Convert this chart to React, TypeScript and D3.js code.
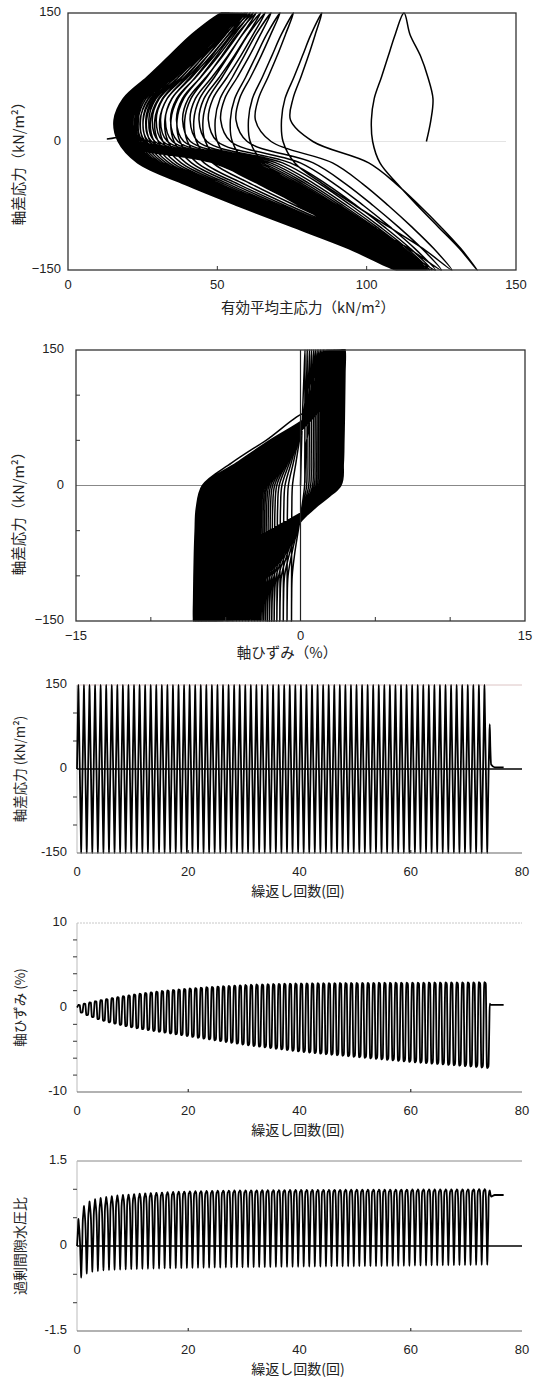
import React from 'react'
import * as d3 from 'd3'

// ---- values, one entry per loading cycle (k = 0..73) ----

// axial strain (%) at q = +150 and at q = -150
const strainMax = [
  0.30, 0.45, 0.60, 0.74, 0.88, 1.00, 1.12, 1.23, 1.34, 1.44,
  1.54, 1.63, 1.72, 1.80, 1.88, 1.95, 2.02, 2.08, 2.14, 2.20,
  2.25, 2.30, 2.35, 2.40, 2.44, 2.48, 2.52, 2.56, 2.60, 2.63,
  2.66, 2.69, 2.72, 2.74, 2.76, 2.78, 2.80, 2.82, 2.83, 2.84,
  2.85, 2.86, 2.87, 2.88, 2.88, 2.89, 2.89, 2.90, 2.90, 2.91,
  2.91, 2.92, 2.92, 2.92, 2.93, 2.93, 2.93, 2.94, 2.94, 2.94,
  2.95, 2.95, 2.95, 2.96, 2.96, 2.96, 2.97, 2.97, 2.97, 2.98,
  2.98, 2.98, 2.99, 2.99,
]
const strainMin = [
  -0.60, -0.90, -1.15, -1.38, -1.58, -1.76, -1.92, -2.07, -2.21, -2.34,
  -2.46, -2.57, -2.68, -2.78, -2.88, -2.98, -3.08, -3.18, -3.28, -3.38,
  -3.48, -3.58, -3.68, -3.78, -3.88, -3.98, -4.08, -4.18, -4.28, -4.38,
  -4.47, -4.56, -4.64, -4.72, -4.80, -4.88, -4.96, -5.04, -5.12, -5.20,
  -5.27, -5.34, -5.41, -5.47, -5.53, -5.59, -5.65, -5.71, -5.77, -5.83,
  -5.89, -5.95, -6.01, -6.07, -6.13, -6.19, -6.25, -6.31, -6.37, -6.43,
  -6.49, -6.54, -6.59, -6.64, -6.69, -6.74, -6.79, -6.84, -6.89, -6.94,
  -6.99, -7.04, -7.10, -7.16,
]

// effective mean stress p' (kN/m2): at q = +150, at q = 0 going down, at q = -150
const pTop = [
  112.5, 85.0, 75.5, 71.0, 68.0, 66.0, 64.5, 63.0, 62.0, 61.0,
  60.0, 59.3, 58.6, 58.0, 57.5, 57.0, 56.6, 56.2, 55.8, 55.5,
  55.2, 55.0, 54.8, 54.6, 54.4, 54.2, 54.0, 53.9, 53.8, 53.7,
  53.6, 53.5, 53.4, 53.3, 53.2, 53.1, 53.0, 52.9, 52.8, 52.8,
  52.7, 52.7, 52.6, 52.6, 52.5, 52.5, 52.4, 52.4, 52.3, 52.3,
  52.2, 52.2, 52.1, 52.1, 52.0, 52.0, 51.9, 51.9, 51.8, 51.8,
  51.7, 51.7, 51.6, 51.6, 51.5, 51.5, 51.4, 51.4, 51.3, 51.3,
  51.2, 51.2, 51.1, 51.1,
]
const pNose = [
  102, 72, 61, 55, 50, 46, 43, 40, 37.5, 35.5,
  33.5, 31.8, 30.2, 28.8, 27.5, 26.4, 25.4, 24.5, 23.7, 23.0,
  22.4, 21.8, 21.3, 20.9, 20.5, 20.2, 19.9, 19.6, 19.4, 19.2,
  19.0, 18.9, 18.8, 18.7, 18.6, 18.5, 18.4, 18.3, 18.2, 18.1,
  18.0, 18.0, 17.9, 17.9, 17.8, 17.8, 17.7, 17.7, 17.6, 17.6,
  17.5, 17.5, 17.5, 17.4, 17.4, 17.4, 17.3, 17.3, 17.3, 17.2,
  17.2, 17.2, 17.1, 17.1, 17.1, 17.0, 17.0, 17.0, 16.9, 16.9,
  16.9, 16.8, 16.8, 16.8,
]
const pBottom = [
  137, 128.5, 125, 123, 121.8, 121, 120.4, 119.9, 119.5, 119.1,
  118.8, 118.5, 118.2, 117.9, 117.7, 117.5, 117.3, 117.1, 116.9, 116.7,
  116.5, 116.3, 116.1, 116.0, 115.8, 115.7, 115.5, 115.4, 115.3, 115.1,
  115.0, 114.9, 114.8, 114.6, 114.5, 114.4, 114.3, 114.2, 114.0, 113.9,
  113.8, 113.7, 113.6, 113.5, 113.4, 113.3, 113.2, 113.1, 113.0, 112.9,
  112.8, 112.7, 112.6, 112.5, 112.4, 112.3, 112.2, 112.0, 111.9, 111.8,
  111.6, 111.5, 111.4, 111.2, 111.1, 111.0, 110.8, 110.7, 110.5, 110.4,
  110.2, 110.1, 109.9, 109.8,
]
// p' at q = 0 going up, at the start of each cycle (last one starts the tail)
const pStart = [
  120, 82, 68, 60, 54.5, 50, 46.5, 43.5, 41, 38.8,
  36.8, 35, 33.3, 31.8, 30.4, 29.1, 28, 27, 26, 25.2,
  24.4, 23.7, 23.1, 22.6, 22.1, 21.7, 21.3, 21.0, 20.7, 20.4,
  20.2, 20.0, 19.8, 19.7, 19.6, 19.5, 19.4, 19.3, 19.2, 19.1,
  19.0, 19.0, 18.9, 18.9, 18.8, 18.8, 18.7, 18.7, 18.6, 18.6,
  18.5, 18.5, 18.4, 18.4, 18.3, 18.3, 18.2, 18.2, 18.1, 18.1,
  18.0, 18.0, 17.9, 17.9, 17.8, 17.8, 17.7, 17.7, 17.6, 17.6,
  17.5, 17.5, 17.4, 17.4, 17.3,
]

// q levels visited in one cycle (kN/m2)
const cycleQ = [0, 25, 50, 75, 100, 125, 150, 125, 100, 75, 50, 25, 0, -25, -50, -75, -100, -125, -150, -125, -100, -75, -50, -25]

// loop shapes read from the stress-strain and stress-path loops
const firstLoadStrain = [0, 0.12, 0.26, 0.42, 0.6, 0.8]
const firstLoadP = [120, 121.5, 122.2, 120.5, 118, 114.5]
const upStrain = [0.002, 0.004, 0.007, 0.012, 0.02, 0.06, 0.28, 0.5, 0.74, 0.9, 0.97]
const downStrain = [0.002, 0.004, 0.006, 0.009, 0.013, 0.03, 0.24, 0.5, 0.76, 0.95, 0.99]
const compUpP = [0.75, 0.08, 0.33, 0.57, 0.79]
const compDownP = [0.28, 0.5, 0.72, 0.95, 1.04]
const extDownP = [0.07, 0.24, 0.43, 0.63, 0.83]
const extUpP = [0.1, 0.22, 0.35, 0.49, 0.66]

// end of test after the last cycle
const tailT = [74.06, 74.12, 74.2, 74.3, 74.45, 75.1, 76.7]
const tailQ = [25, 50, 80, 40, 8, 3, 3]
const tailStrain = [-4.6, -2.3, 0.45, 0.35, 0.3, 0.3, 0.3]
const tailP = [18.5, 21, 29, 22, 18, 13, 13]

// ticks
const pTicks = [0, 50, 100, 150]
const qTicks = [-150, 0, 150]
const strainTicks = [-15, 0, 15]
const cycleTicks = [0, 20, 40, 60, 80]

type State = { t: number; q: number; e: number; p: number; u: number }

function buildStates(): State[] {
  const sigmaC = pStart[0]
  const out: State[] = []
  const n = strainMax.length
  // excess pore water pressure ratio from p', q and the initial confining stress
  const push = (t: number, q: number, e: number, p: number) =>
    out.push({ t, q, e, p, u: (sigmaC + q / 3 - p) / sigmaC })

  for (let k = 0; k < n; k++) {
    const next = Math.min(k + 1, n - 1)
    for (let i = 0; i < cycleQ.length; i++) {
      const q = cycleQ[i]
      const t = k + i / cycleQ.length
      let e = 0
      let p = 0
      if (i <= 5) {
        if (k === 0) e = strainMax[0] * firstLoadStrain[i]
        else e = strainMin[k - 1] + (strainMax[k] - strainMin[k - 1]) * upStrain[5 + i]
        if (i === 0) p = pStart[k]
        else if (k === 0) p = firstLoadP[i]
        else {
          const dip = pStart[k] + (pNose[k] - pStart[k]) * compUpP[0]
          p = i === 1 ? dip : dip + (pTop[k] - dip) * compUpP[i - 1]
        }
      } else if (i === 6) {
        e = strainMax[k]
        p = pTop[k]
      } else if (i <= 11) {
        e = strainMax[k] - (strainMax[k] - strainMin[k]) * downStrain[i - 7]
        p = pTop[k] - (pTop[k] - pNose[k]) * compDownP[i - 7]
      } else if (i === 12) {
        e = strainMax[k] - (strainMax[k] - strainMin[k]) * downStrain[5]
        p = pNose[k]
      } else if (i <= 17) {
        e = strainMax[k] - (strainMax[k] - strainMin[k]) * downStrain[i - 7]
        p = pNose[k] + (pBottom[k] - pNose[k]) * extDownP[i - 13]
      } else if (i === 18) {
        e = strainMin[k]
        p = pBottom[k]
      } else {
        e = strainMin[k] + (strainMax[next] - strainMin[k]) * upStrain[i - 19]
        p = pBottom[k] - (pBottom[k] - pStart[k + 1]) * extUpP[i - 19]
      }
      push(t, q, e, p)
    }
  }
  const last = n - 1
  push(n, 0, strainMin[last] + (strainMax[last] - strainMin[last]) * upStrain[5], pStart[n])
  tailT.forEach((t, i) => push(t, tailQ[i], tailStrain[i], tailP[i]))
  return out
}

const states = buildStates()

const sans = "'Liberation Sans', Arial, 'Noto Sans CJK JP', sans-serif"
const jp = "'Noto Sans CJK JP', sans-serif"

// panel geometry
const p1 = { x0: 68, x1: 516, y0: 13, y1: 270 }
const p2 = { x0: 76, x1: 525, y0: 350, y1: 621 }
const tsX = { x0: 77, x1: 522 }
const p3 = { y0: 685, y1: 853 }
const p4 = { y0: 923, y1: 1092 }
const p5 = { y0: 1161, y1: 1331 }

function TimePanel({ y0, y1, dom, ticks, minor, fmt, value, zeroLine, topColor, topDash, yTitle, titleSize }: any) {
  const x = d3.scaleLinear().domain([0, 80]).range([tsX.x0, tsX.x1])
  const y = d3.scaleLinear().domain(dom).range([y1, y0])
  const line = d3.line<State>().x(d => x(d.t)).y(d => y(value(d))).curve(d3.curveMonotoneX)
  const yc = (y0 + y1) / 2
  return (
    <g>
      <line x1={tsX.x0} x2={tsX.x1} y1={y(dom[1])} y2={y(dom[1])} stroke={topColor} strokeWidth={1} strokeDasharray={topDash} />
      <line x1={tsX.x0} x2={tsX.x0} y1={y0} y2={y1} stroke="#bbb" strokeWidth={1} />
      {minor.map((v: number) => (
        <line key={v} x1={tsX.x0 - 4} x2={tsX.x0} y1={y(v)} y2={y(v)} stroke="#555" strokeWidth={1.2} />
      ))}
      <path d={line(states) || ''} fill="none" stroke="#000" strokeWidth={1.8} />
      {zeroLine && <line x1={tsX.x0} x2={tsX.x1} y1={y(0)} y2={y(0)} stroke="#000" strokeWidth={1.6} />}
      <line x1={tsX.x0} x2={tsX.x1} y1={y(dom[0])} y2={y(dom[0])} stroke="#666" strokeWidth={1.2} />
      {[20, 60].map(v => (
        <line key={v} x1={x(v)} x2={x(v)} y1={y(dom[0]) - 3} y2={y(dom[0])} stroke="#333" strokeWidth={1.2} />
      ))}
      {ticks.map((v: number) => (
        <text key={v} x={tsX.x0 - 10} y={y(v)} textAnchor="end" dominantBaseline="middle" fontSize={13} fontFamily={sans} fill="#222">{fmt(v)}</text>
      ))}
      {cycleTicks.map(v => (
        <text key={v} x={x(v)} y={y1 + 20} textAnchor="middle" dominantBaseline="middle" fontSize={13} fontFamily={sans} fill="#222">{v}</text>
      ))}
      <text x={298} y={y1 + 39} textAnchor="middle" dominantBaseline="middle" fontSize={14} fontFamily={jp} fill="#222">繰返し回数(回)</text>
      <text transform={`translate(21,${yc}) rotate(-90)`} textAnchor="middle" dominantBaseline="middle" fontSize={titleSize} fontFamily={jp} fill="#222">{yTitle}</text>
    </g>
  )
}

export default function App() {
  const x1 = d3.scaleLinear().domain([0, 150]).range([p1.x0, p1.x1])
  const y1 = d3.scaleLinear().domain([-150, 150]).range([p1.y1, p1.y0])
  const x2 = d3.scaleLinear().domain([-15, 15]).range([p2.x0, p2.x1])
  const y2 = d3.scaleLinear().domain([-150, 150]).range([p2.y1, p2.y0])

  const path1 = d3.line<State>().x(d => x1(d.p)).y(d => y1(d.q)).curve(d3.curveCatmullRom.alpha(0.5))(states) || ''
  const path2 = d3.line<State>().x(d => x2(d.e)).y(d => y2(d.q)).curve(d3.curveCatmullRom.alpha(0.5))(states) || ''
  const minus = (v: number) => (v < 0 ? '\u2212' + Math.abs(v) : String(v))

  return (
    <svg width={537} height={1380} style={{ position: 'absolute', left: 0, top: 0, background: '#fff' }}>
      <rect width={537} height={1380} fill="#fff" />

      {/* stress path */}
      <line x1={p1.x0 + 12} x2={p1.x1 - 10} y1={y1(0)} y2={y1(0)} stroke="#e4e4e4" strokeWidth={1} />
      <path d={path1} fill="none" stroke="#000" strokeWidth={1.5} />
      <rect x={p1.x0} y={p1.y0} width={p1.x1 - p1.x0} height={p1.y1 - p1.y0} fill="none" stroke="#333" strokeWidth={1.3} />
      {[50, 100].map(v => (
        <line key={v} x1={x1(v)} x2={x1(v)} y1={p1.y1} y2={p1.y1 - 4} stroke="#333" />
      ))}
      {qTicks.map(v => (
        <text key={v} x={p1.x0 - 7} y={y1(v)} textAnchor="end" dominantBaseline="middle" fontSize={13} fontFamily={sans} fill="#222">{minus(v)}</text>
      ))}
      {pTicks.map(v => (
        <text key={v} x={x1(v)} y={p1.y1 + 16} textAnchor="middle" dominantBaseline="middle" fontSize={13} fontFamily={sans} fill="#222">{v}</text>
      ))}
      <text x={308} y={309} textAnchor="middle" dominantBaseline="middle" fontSize={14.5} fontFamily={jp} fill="#222">有効平均主応力（kN/m²）</text>
      <text transform={`translate(20,160) rotate(-90)`} textAnchor="middle" dominantBaseline="middle" fontSize={14.5} fontFamily={jp} fill="#222">軸差応力（kN/m²）</text>

      {/* stress-strain */}
      <line x1={p2.x0} x2={p2.x1} y1={y2(0)} y2={y2(0)} stroke="#888" strokeWidth={1} />
      <path d={path2} fill="none" stroke="#000" strokeWidth={1.5} />
      <line x1={x2(0)} x2={x2(0)} y1={p2.y0} y2={p2.y1} stroke="#222" strokeWidth={1.2} />
      <rect x={p2.x0} y={p2.y0} width={p2.x1 - p2.x0} height={p2.y1 - p2.y0} fill="none" stroke="#333" strokeWidth={1.3} />
      {[-100, -50, 50, 100].map(v => (
        <line key={v} x1={p2.x0} x2={p2.x0 + 4} y1={y2(v)} y2={y2(v)} stroke="#333" />
      ))}
      {[-10, -5, 5, 10].map(v => (
        <line key={v} x1={x2(v)} x2={x2(v)} y1={p2.y1} y2={p2.y1 - 4} stroke="#333" />
      ))}
      {qTicks.map(v => (
        <text key={v} x={p2.x0 - 12} y={y2(v)} textAnchor="end" dominantBaseline="middle" fontSize={13} fontFamily={sans} fill="#222">{minus(v)}</text>
      ))}
      {strainTicks.map(v => (
        <text key={v} x={x2(v)} y={p2.y1 + 16} textAnchor="middle" dominantBaseline="middle" fontSize={13} fontFamily={sans} fill="#222">{minus(v)}</text>
      ))}
      <text x={287} y={654} textAnchor="middle" dominantBaseline="middle" fontSize={14.5} fontFamily={jp} fill="#222">軸ひずみ（%）</text>
      <text transform={`translate(20,510) rotate(-90)`} textAnchor="middle" dominantBaseline="middle" fontSize={14.5} fontFamily={jp} fill="#222">軸差応力（kN/m²）</text>

      <TimePanel y0={p3.y0} y1={p3.y1} dom={[-150, 150]} ticks={[-150, 0, 150]} minor={[-100, -50, 50, 100]}
        fmt={(v: number) => String(v)} value={(d: State) => d.q} zeroLine topColor="#dcc4c4" yTitle="軸差応力 (kN/m²)" titleSize={13.5} />
      <TimePanel y0={p4.y0} y1={p4.y1} dom={[-10, 10]} ticks={[-10, 0, 10]} minor={[-8, -6, -4, -2, 2, 4, 6, 8]}
        fmt={(v: number) => String(v)} value={(d: State) => d.e} zeroLine={false} topColor="#c8c8c8" topDash="2 1" yTitle="軸ひずみ (%)" titleSize={13.5} />
      <TimePanel y0={p5.y0} y1={p5.y1} dom={[-1.5, 1.5]} ticks={[-1.5, 0, 1.5]} minor={[-1, -0.5, 0.5, 1]}
        fmt={(v: number) => (v === 0 ? '0' : v.toFixed(1))} value={(d: State) => d.u} zeroLine topColor="#888" yTitle="過剰間隙水圧比" titleSize={14} />
    </svg>
  )
}
